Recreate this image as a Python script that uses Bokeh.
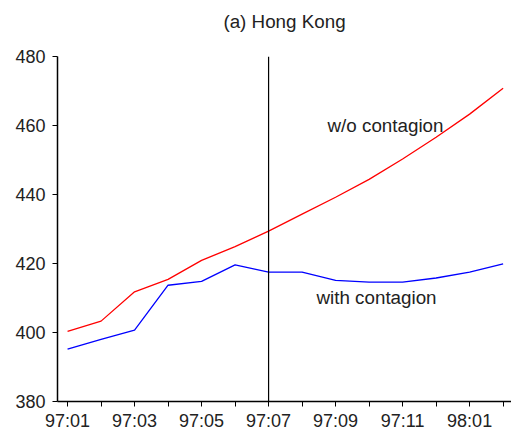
from bokeh.plotting import figure
from bokeh.models import FixedTicker, Span, Label, Range1d, Title
from bokeh.embed import file_html
from bokeh.resources import INLINE

months = ["97:01", "97:02", "97:03", "97:04", "97:05", "97:06", "97:07",
          "97:08", "97:09", "97:10", "97:11", "97:12", "98:01", "98:02"]
wo_contagion = [400.3, 403.3, 411.8, 415.4, 420.9, 424.9, 429.4,
                434.3, 439.2, 444.4, 450.3, 456.6, 463.3, 470.8]
with_contagion = [395.2, 398.0, 400.7, 413.7, 414.8, 419.6, 417.5,
                  417.5, 415.1, 414.6, 414.6, 415.8, 417.5, 419.9]
y_ticks = [380, 400, 420, 440, 460, 480]
break_month = "97:07"
title_text = "(a) Hong Kong"

x = list(range(len(months)))
FONT = "Liberation Sans"

p = figure(width=511, height=437, output_backend="svg", toolbar_location=None,
           x_range=Range1d(-0.3, 13.25), y_range=Range1d(380, 480))
p.min_border_left = 57
p.min_border_right = 0
p.min_border_top = 56
p.min_border_bottom = 36
p.outline_line_color = None
p.grid.visible = False
p.background_fill_color = "white"

p.title = Title(text=title_text + "\n ", align="center", text_font=FONT,
                text_font_size="18.8px", text_font_style="normal",
                text_color="#222222", standoff=4, vertical_align="top")

p.line(x, wo_contagion, line_color="#ff0000", line_width=1.3)
p.line(x, with_contagion, line_color="#0000ff", line_width=1.3)

p.add_layout(Span(location=months.index(break_month), dimension="height",
                  line_color="black", line_width=1.2))

p.add_layout(Label(x=7.76, y=457.0, text="w/o contagion", text_font=FONT,
                   text_font_size="18.8px", text_color="#222222"))
p.add_layout(Label(x=7.43, y=407.2, text="with contagion", text_font=FONT,
                   text_font_size="18.8px", text_color="#222222"))

p.xaxis.ticker = FixedTicker(ticks=x, minor_ticks=[])
p.xaxis.major_label_overrides = {i: (m if i % 2 == 0 else "") for i, m in enumerate(months)}
p.yaxis.ticker = FixedTicker(ticks=y_ticks, minor_ticks=[])

for ax in (p.xaxis, p.yaxis):
    ax.axis_line_color = "black"
    ax.axis_line_width = 1.5
    ax.major_tick_line_color = "black"
    ax.major_tick_line_width = 1
    ax.major_tick_out = 5
    ax.major_tick_in = 0
    ax.minor_tick_line_color = None
    ax.major_label_text_font = FONT
    ax.major_label_text_font_size = "18px"
    ax.major_label_text_color = "#222222"
p.xaxis.major_label_standoff = 4
p.yaxis.major_label_standoff = 7

open("out.html", "w").write(file_html(p, INLINE))
